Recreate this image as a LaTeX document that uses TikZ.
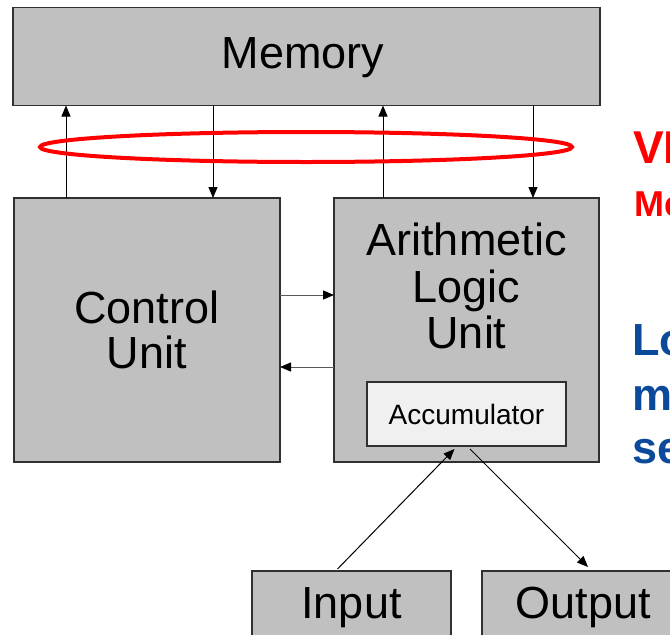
\documentclass[tikz,border=0pt]{standalone}
\usepackage{fontspec}
\setmainfont{Liberation Sans}
\usetikzlibrary{arrows.meta,shapes.geometric}
\definecolor{boxgray}{HTML}{C0C0C0}
\definecolor{accgray}{HTML}{F0F0F0}
\definecolor{edgegray}{HTML}{303030}
\definecolor{vnblue}{HTML}{0B4A9A}
\begin{document}
\begin{tikzpicture}[x=1pt,y=-1pt,
  unit/.style={draw=edgegray, line width=1.6pt, fill=boxgray, inner sep=0pt, outer sep=0pt},
  accbox/.style={draw=edgegray, line width=1.6pt, fill=accgray, inner sep=0pt, outer sep=0pt},
  arr/.style={-{Triangle[length=11pt,width=9pt,color=black]}, line width=1pt, black},
  big/.style={font=\fontsize{45}{46}\selectfont, anchor=base, inner sep=0pt},
  small/.style={font=\fontsize{28}{28}\selectfont, anchor=base, inner sep=0pt},
  redtxt/.style={text=red, font=\bfseries\fontsize{46}{46}\selectfont, anchor=base west, inner sep=0pt},
  redsmall/.style={text=red, font=\bfseries\fontsize{36}{36}\selectfont, anchor=base west, inner sep=0pt},
  bluetxt/.style={text=vnblue, font=\bfseries\fontsize{45}{45}\selectfont, anchor=base west, inner sep=0pt},
]
\useasboundingbox (0,0) rectangle (670,635);
\clip (0,0) rectangle (670,635);
\fill[white] (0,0) rectangle (670,635);

% boxes
\node[unit, minimum width=587pt, minimum height=98pt] (mem) at (306.5,56.5) {};
\node[unit, minimum width=266pt, minimum height=264pt] (cu) at (147,330) {};
\node[unit, minimum width=265pt, minimum height=264pt] (alu) at (466.5,330) {};
\node[accbox, minimum width=199pt, minimum height=64pt] (acc) at (466.5,414) {};
\node[unit, minimum width=199pt, minimum height=74pt] (inp) at (351.5,608) {};
\node[unit, minimum width=210pt, minimum height=74pt] (outp) at (587,608) {};

% texts
\node[big] (memt) at (303,68) {Memory};
\node[big] (cut1) at (147,323) {Control};
\node[big] (cut2) at (147,368) {Unit};
\node[big] (alut1) at (466.5,255) {Arithmetic};
\node[big] (alut2) at (466.5,302) {Logic};
\node[big] (alut3) at (466.5,348) {Unit};
\node[small] (acct) at (466.5,424) {Accumulator};
\node[big] (inpt) at (351.5,618) {Input};
\node[big] (outpt) at (583,618) {Output};

% memory bus arrows
\draw[arr] (66,0 |- cu.north) -- (66,0 |- mem.south);
\draw[arr] (213,0 |- mem.south) -- (213,0 |- cu.north);
\draw[arr] (383,0 |- alu.north) -- (383,0 |- mem.south);
\draw[arr] (533,0 |- mem.south) -- (533,0 |- alu.north);

% control <-> alu
\draw[arr, draw=black!65] (cu.east |- 0,295) -- (alu.west |- 0,295);
\draw[arr, draw=black!65] (alu.west |- 0,367) -- (cu.east |- 0,367);

% io
\draw[arr] ([xshift=-14pt,yshift=2pt]inp.north) -- ([xshift=-12pt,yshift=-3pt]acc.south);
\draw[arr] ([xshift=3.5pt,yshift=-3pt]acc.south) -- ([xshift=1pt,yshift=4pt]outp.north);

% bottleneck ellipse
\node[draw=red, line width=4pt, ellipse, minimum width=532pt, minimum height=30pt, inner sep=0pt] (bneck) at (306,147) {};

% cut-off side texts
\node[redtxt] (vn) at (633,163) {VN};
\node[redsmall] (me) at (634,216) {Me};
\node[bluetxt] (lo) at (632,355) {Lo};
\node[bluetxt] (mm) at (632,410) {m};
\node[bluetxt] (se) at (632,463) {se};
\end{tikzpicture}
\end{document}
